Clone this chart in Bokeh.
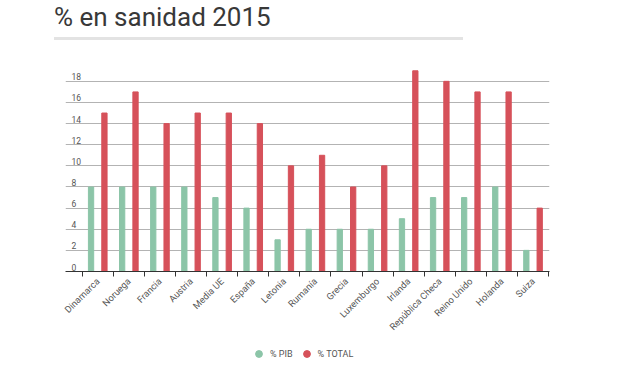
import math
from bokeh.plotting import figure
from bokeh.models import (ColumnDataSource, FixedTicker, Legend, LegendItem, Range1d, Div)
from bokeh.layouts import column
from bokeh.transform import dodge
from bokeh.core.properties import value
from bokeh.embed import file_html
from bokeh.resources import INLINE

countries = ["Dinamarca", "Noruega", "Francia", "Austria", "Media UE", "España", "Letonia",
             "Rumanía", "Grecia", "Luxemburgo", "Irlanda", "República Checa", "Reino Unido",
             "Holanda", "Suiza"]
pib = [8, 8, 8, 8, 7, 6, 3, 4, 4, 4, 5, 7, 7, 8, 2]
total = [15, 17, 14, 15, 15, 14, 10, 11, 8, 10, 19, 18, 17, 17, 6]
y_ticks = [0, 2, 4, 6, 8, 10, 12, 14, 16, 18]
series_names = ["% PIB", "% TOTAL"]
title_text = "% en sanidad 2015"

GREEN = "#8cc5a8"
RED = "#d6515a"
W = 620

# ---- title with light rule underneath
title = Div(text=('<div style="margin-left:54px;width:409px;font-family:Roboto;font-size:26px;'
                  'line-height:18px;color:#383838;padding-top:8px;padding-bottom:11px;'
                  'border-bottom:3px solid #e3e3e3;white-space:nowrap">' + title_text + '</div>'),
            width=W, height=40, margin=0)

# ---- main chart
pos = [i + 0.5 for i in range(len(countries))]
src = ColumnDataSource(dict(x=pos, pib=pib, total=total))

p = figure(width=W, height=301, output_backend="svg", toolbar_location=None,
           x_range=Range1d(-0.537, len(countries) + 0.03), y_range=Range1d(0, 19.5),
           min_border_left=65, min_border_right=71, min_border_top=25, min_border_bottom=70)
p.outline_line_color = None

p.vbar(x=dodge("x", -0.215), top="pib", width=0.17, source=src, color=GREEN)
p.vbar(x=dodge("x", 0.215), top="total", width=0.17, source=src, color=RED)

# y labels inside the plot, above the grid lines
ysrc = ColumnDataSource(dict(y=y_ticks, t=[str(v) for v in y_ticks],
                             x=[-0.537] * len(y_ticks)))
p.text(x="x", y="y", text="t", source=ysrc, x_offset=6, y_offset=-1,
       text_font=value("Roboto"), text_font_size="8.5px", text_color="#555555",
       text_baseline="bottom", text_align="left")

p.yaxis.visible = False
p.ygrid.ticker = FixedTicker(ticks=y_ticks)
p.ygrid.grid_line_color = "#b3b3b3"
p.xgrid.grid_line_color = None

ax = p.xaxis[0]
ax.ticker = FixedTicker(ticks=pos, minor_ticks=list(range(len(countries) + 1)))
ax.major_label_overrides = {p_: c for p_, c in zip(pos, countries)}
ax.major_tick_out = 0
ax.major_tick_in = 0
ax.minor_tick_out = 5
ax.minor_tick_in = 0
ax.minor_tick_line_color = "#333333"
ax.axis_line_color = "#333333"
ax.major_label_orientation = math.pi / 4
ax.major_label_text_font = "Roboto"
ax.major_label_text_font_size = "9.3px"
ax.major_label_text_color = "#555555"
ax.major_label_standoff = 3

# ---- legend strip
p2 = figure(width=W, height=24, output_backend="svg", toolbar_location=None,
            x_range=Range1d(0, 1), y_range=Range1d(0, 1),
            x_axis_location=None, y_axis_location=None,
            min_border_left=0, min_border_right=0, min_border_top=0, min_border_bottom=0)
p2.outline_line_color = None
p2.grid.visible = False
nan = float("nan")
g1 = p2.scatter(x=[nan], y=[nan], marker="circle", size=11, color=GREEN)
g2 = p2.scatter(x=[nan], y=[nan], marker="circle", size=11, color=RED)
legend = Legend(items=[LegendItem(label=series_names[0], renderers=[g1]),
                       LegendItem(label=series_names[1], renderers=[g2])],
                orientation="horizontal", location=(185, 3),
                label_text_font="Roboto", label_text_font_size="9px",
                label_text_color="#555555", glyph_width=17, glyph_height=17,
                label_height=17, label_standoff=3, spacing=5, padding=0, margin=0,
                border_line_color=None, background_fill_alpha=0)
p2.add_layout(legend, "center")

layout = column(title, p, p2, spacing=0)
open("out.html", "w").write(file_html(layout, INLINE))
